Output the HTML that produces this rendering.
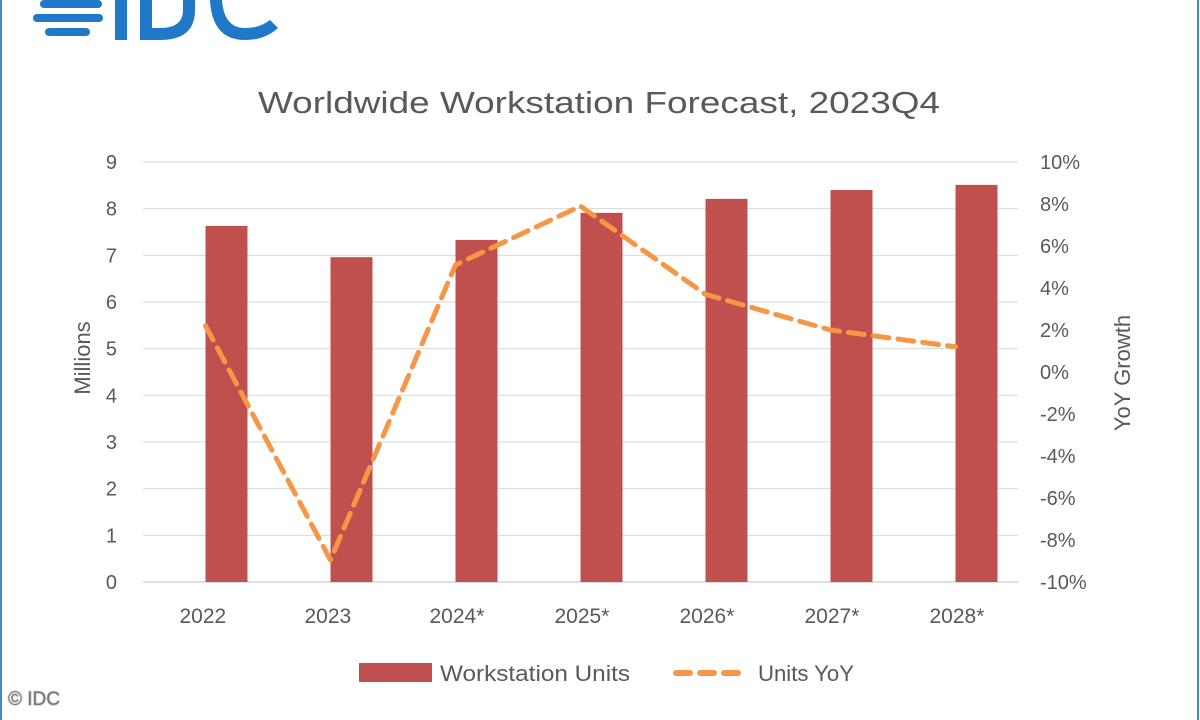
<!DOCTYPE html>
<html><head><meta charset="utf-8"><style>
body{margin:0;background:#fff;}
svg{display:block;font-family:"Liberation Sans",sans-serif;}
</style></head><body>
<svg width="1200" height="720" viewBox="0 0 1200 720" xmlns="http://www.w3.org/2000/svg">
<rect x="0" y="0" width="1200" height="720" fill="#fff"/>
<line x1="1" y1="0" x2="1" y2="720" stroke="#4a86d0" stroke-width="2"/>
<line x1="1198" y1="0" x2="1198" y2="720" stroke="#4a86d0" stroke-width="2"/>
<g fill="#1f78c8">
<rect x="40" y="0" width="62" height="8" rx="4"/>
<rect x="33" y="14" width="70" height="8" rx="4"/>
<rect x="45" y="28" width="45" height="8" rx="4"/>
<rect x="115" y="0" width="12" height="40"/>
<path d="M140 0 V40 H160 Q195 40 195 10 V0 H183 V10 Q183 28 160 28 H152 V0 Z"/>
<path d="M210 0 Q212 40 245 40 Q265 40 278 28 L270 20 Q260 28 245 28 Q224 28 222 0 Z"/>
</g>
<text x="258" y="113" textLength="682" lengthAdjust="spacingAndGlyphs" font-size="31" fill="#595959">Worldwide Workstation Forecast, 2023Q4</text>
<g id="grid"></g>
<g id="bars"></g>
<g id="line"></g>
<g id="axes"></g>
<text transform="translate(90,358) rotate(-90)" text-anchor="middle" font-size="22" fill="#595959">Millions</text>
<text transform="translate(1130,373) rotate(-90)" text-anchor="middle" font-size="22" fill="#595959">YoY Growth</text>
<g>
<rect x="359" y="663" width="73" height="19" fill="#c0504d"/>
<text x="440" y="681" textLength="190" lengthAdjust="spacingAndGlyphs" font-size="22" fill="#595959">Workstation Units</text>
<line x1="676" y1="673" x2="742" y2="673" stroke="#f79646" stroke-width="6" stroke-dasharray="14,10" stroke-linecap="round"/>
<text x="758" y="681" textLength="96" lengthAdjust="spacingAndGlyphs" font-size="22" fill="#595959">Units YoY</text>
</g>
<text x="8" y="705" font-size="19" fill="#777" stroke="#ccc" stroke-width="1.5" paint-order="stroke">© IDC</text>
</svg>
<script>
const categories=["2022","2023","2024*","2025*","2026*","2027*","2028*"];
const units=[7.63,6.96,7.33,7.91,8.21,8.40,8.51];
const yoy=[2.2,-8.95,5.1,7.9,3.7,2.0,1.2];
const leftTicks=[0,1,2,3,4,5,6,7,8,9];
const rightTicks=[-10,-8,-6,-4,-2,0,2,4,6,8,10];
const NS="http://www.w3.org/2000/svg";
const x0=143,x1=1018,yb=582,yt=162;
const yL=v=>yb-(v/9)*(yb-yt);
const yR=v=>yb-((v+10)/20)*(yb-yt);
const step=(x1-x0)/categories.length;
const xC=i=>x0+step*(i+0.5);
function mk(t,a,p){const e=document.createElementNS(NS,t);for(const k in a)e.setAttribute(k,a[k]);p.appendChild(e);return e;}
const grid=document.getElementById('grid'),bars=document.getElementById('bars'),line=document.getElementById('line'),axes=document.getElementById('axes');
leftTicks.forEach(v=>{
 const g=mk('line',{x1:x0,x2:x1,y1:yL(v),y2:yL(v),stroke:v===0?'#bfbfbf':'#d9d9d9','stroke-width':1},grid);
 
 
 const t=mk('text',{x:117,y:yL(v)+7,'text-anchor':'end','font-size':20,fill:'#595959'},axes);
 t.textContent=v;
 
 
});
rightTicks.forEach(v=>{
 const t=mk('text',{x:1040,y:yR(v)+7,'text-anchor':'start','font-size':20,fill:'#595959'},axes);
 t.textContent=v+'%';
 
 
});
categories.forEach((c,i)=>{
 const b=mk('rect',{x:xC(i),y:yL(units[i]),width:42,height:yb-yL(units[i]),fill:'#c0504d'},bars);
 
 
 const t=mk('text',{x:xC(i)-26,y:623,'text-anchor':'start','font-size':21,fill:'#595959'},axes);
 t.textContent=c;
 
 
});
const pts=yoy.map((v,i)=>xC(i)+','+yR(v)).join(' ');
const pl=mk('polyline',{points:pts,fill:'none',stroke:'#f79646','stroke-width':5,'stroke-dasharray':'16,9','stroke-linecap':'round','stroke-linejoin':'round'},line);


</script>
</body></html>
